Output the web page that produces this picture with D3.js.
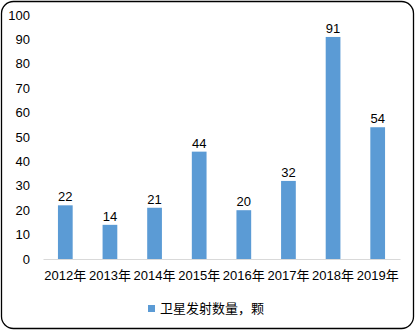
<!DOCTYPE html>
<html>
<head>
<meta charset="utf-8">
<script src="https://cdn.jsdelivr.net/npm/d3@7"></script>
<style>
    body { margin: 0; background: #fff; }
    svg text { font-family: "Liberation Sans", "Noto Sans CJK SC", sans-serif; fill: #000; }
</style>
</head>
<body>
<div id="chart"></div>
<script>
// chart data
const years = ["2012年", "2013年", "2014年", "2015年", "2016年", "2017年", "2018年", "2019年"];
const launches = [22, 14, 21, 44, 20, 32, 91, 54];
const yTicks = [0, 10, 20, 30, 40, 50, 60, 70, 80, 90, 100];
const seriesName = "卫星发射数量，颗";

const W = 415, H = 330;
const margin = {top: 15, right: 15, bottom: 71, left: 43};
const width = W - margin.left - margin.right;
const height = H - margin.top - margin.bottom;

const svg = d3.select("#chart")
    .append("svg")
    .attr("width", W)
    .attr("height", H);

// outer rounded border
svg.append("rect")
    .attr("x", 1.5)
    .attr("y", 1.5)
    .attr("width", W - 3)
    .attr("height", H - 3)
    .attr("rx", 12)
    .attr("fill", "#fff")
    .attr("stroke", "#000")
    .attr("stroke-width", 1.3);

const g = svg.append("g")
    .attr("transform", "translate(" + margin.left + "," + margin.top + ")");

const x = d3.scaleBand()
    .domain(years)
    .range([0, width])
    .paddingInner(0.67)
    .paddingOuter(0.335);

const y = d3.scaleLinear()
    .domain([0, 100])
    .range([height, 0]);

// y axis labels (no line)
const yAxis = g.append("g")
    .call(d3.axisLeft(y).tickValues(yTicks).tickSize(0).tickPadding(13));
yAxis.select(".domain").remove();
yAxis.selectAll("text").style("font-size", "13px");

// bars
g.selectAll(".bar")
    .data(launches)
    .join("rect")
    .attr("class", "bar")
    .attr("x", (d, i) => x(years[i]))
    .attr("y", d => y(d))
    .attr("width", x.bandwidth())
    .attr("height", d => height - y(d))
    .attr("fill", "#5b9bd5");

// value labels
g.selectAll(".val")
    .data(launches)
    .join("text")
    .attr("class", "val")
    .attr("x", (d, i) => x(years[i]) + x.bandwidth() / 2)
    .attr("y", d => y(d) - 4)
    .attr("text-anchor", "middle")
    .style("font-size", "13px")
    .text(d => d);

// x axis
const xAxis = g.append("g")
    .attr("transform", "translate(0," + height + ")")
    .call(d3.axisBottom(x).tickSize(0).tickPadding(12).tickSizeOuter(0));
xAxis.select(".domain").attr("stroke", "#d9d9d9");
xAxis.selectAll("text").style("font-size", "13px");

// legend
const legend = svg.append("g")
    .attr("transform", "translate(148,305)");
legend.append("rect")
    .attr("width", 7)
    .attr("height", 7)
    .attr("fill", "#5b9bd5");
legend.append("text")
    .attr("x", 12)
    .attr("y", 8)
    .style("font-size", "13px")
    .text(seriesName);
</script>
</body>
</html>
